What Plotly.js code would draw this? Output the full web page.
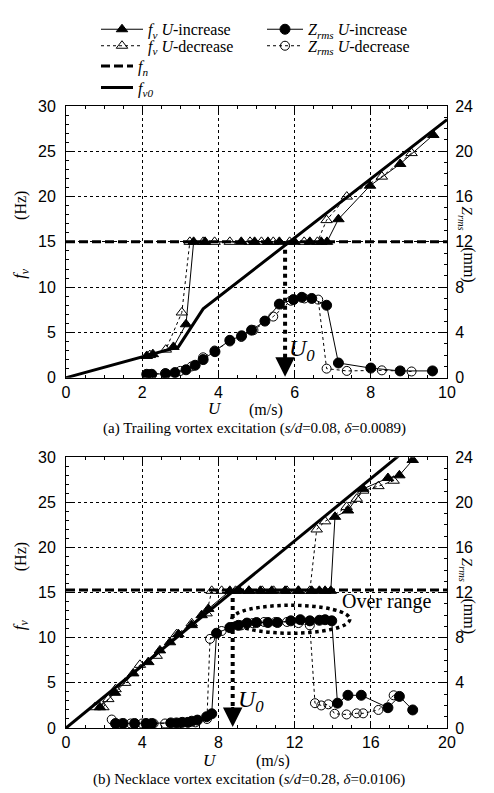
<!DOCTYPE html>
<html>
<head>
<meta charset="utf-8">
<script src="https://cdn.plot.ly/plotly-3.0.1.min.js"></script>
<style>html,body{margin:0;padding:0;background:#fff;}#chart{width:494px;height:793px;}</style>
</head>
<body>
<div id="chart"></div>
<script>
// ---------- (a) Trailing vortex excitation ----------
const a_fvInc_U = [2.12, 2.28, 2.82, 3.15, 3.35, 3.65, 4.6, 4.95, 5.3, 5.6, 6.0, 6.4, 6.7, 6.85, 7.15, 7.98, 8.77, 9.64];
const a_fvInc_f = [2.4, 2.6, 3.4, 5.9, 15, 15, 15, 15, 15, 15, 15, 15, 15, 15, 17.5, 21.2, 23.6, 26.8];
const a_fvDec_U = [9.07, 8.29, 7.37, 6.84, 6.6, 6.25, 5.87, 5.44, 5.13, 4.83, 4.3, 3.9, 3.6, 3.25, 3.04, 2.62, 2.2];
const a_fvDec_f = [24.8, 22.2, 20.0, 17.4, 15, 15, 15, 15, 15, 15, 15, 15, 15, 15, 7.2, 3.1, 2.5];
const a_zInc_U = [2.12, 2.25, 2.62, 2.86, 3.15, 3.39, 3.6, 3.91, 4.3, 4.61, 4.87, 5.22, 5.6, 5.97, 6.19, 6.45, 6.84, 7.15, 8.0, 8.77, 9.62];
const a_zInc_Z = [0.3, 0.3, 0.35, 0.45, 0.7, 1.1, 1.6, 2.3, 3.3, 3.7, 4.2, 5.0, 6.5, 6.9, 7.1, 7.0, 6.4, 1.3, 0.85, 0.6, 0.6];
const a_zDec_U = [9.07, 8.29, 7.37, 6.84, 6.62, 6.26, 5.9, 5.44, 4.92, 4.6, 4.3, 3.9, 3.6, 3.3, 3.0, 2.6, 2.2];
const a_zDec_Z = [0.55, 0.65, 0.6, 0.8, 6.9, 7.0, 6.8, 5.4, 4.2, 3.6, 3.2, 2.4, 1.8, 1.0, 0.6, 0.4, 0.3];
const a_fn_U = [0, 10];
const a_fn_f = [15, 15];
const a_fv0_U = [0, 2.95, 3.6, 10];
const a_fv0_f = [0, 3.4, 7.6, 28.5];
const a_U0 = 5.75;
const a_U0_f = [15, 1.2];

// ---------- (b) Necklace vortex excitation ----------
const b_fvInc_U = [1.78, 2.57, 3.53, 4.32, 4.93, 5.46, 5.9, 6.6, 7.12, 7.47, 8.6, 9.1, 9.6, 10.2, 10.8, 11.5, 12.2, 12.9, 13.3, 13.6, 13.9, 14.12, 14.8, 15.6, 16.9, 17.5, 18.2];
const b_fvInc_f = [2.3, 3.9, 6.05, 7.3, 8.6, 9.5, 10.4, 11.4, 12.5, 13.2, 15.2, 15.2, 15.2, 15.2, 15.2, 15.2, 15.2, 15.2, 15.2, 15.2, 15.2, 23.4, 24.1, 26.5, 27.7, 28.0, 29.7];
const b_fvDec_U = [17.2, 16.4, 15.6, 15.26, 14.73, 13.6, 13.16, 12.8, 12.2, 11.6, 10.9, 10.3, 9.6, 8.9, 8.17, 7.65, 7.38, 6.6, 5.81, 4.76, 3.88, 3.1, 2.6, 2.22, 1.96, 1.52];
const b_fvDec_f = [27.4, 26.8, 26.3, 25.4, 24.5, 22.9, 22.0, 15.2, 15.2, 15.2, 15.2, 15.2, 15.2, 15.2, 15.2, 15.2, 12.7, 11.6, 10.4, 8.0, 7.0, 5.0, 4.3, 3.2, 2.3, 2.3];
const b_zInc_U = [2.6, 3.0, 3.6, 4.2, 4.5, 5.5, 5.8, 6.1, 6.4, 6.6, 6.9, 7.38, 7.65, 7.9, 8.6, 9.05, 9.5, 10.0, 10.6, 11.1, 11.8, 12.3, 12.8, 13.3, 13.6, 13.95, 14.25, 14.8, 15.5, 16.9, 17.5, 18.2];
const b_zInc_Z = [0.4, 0.4, 0.4, 0.4, 0.4, 0.45, 0.45, 0.5, 0.5, 0.6, 0.7, 1.0, 1.26, 8.4, 8.9, 9.1, 9.3, 9.35, 9.35, 9.35, 9.5, 9.6, 9.5, 9.55, 9.6, 9.5, 2.2, 2.9, 2.9, 1.8, 2.8, 1.6];
const b_zDec_U = [17.2, 16.4, 15.6, 15.26, 14.73, 14.1, 13.77, 13.4, 13.07, 12.8, 12.2, 11.6, 11.0, 10.4, 9.8, 9.2, 8.6, 8.17, 7.56, 7.4, 6.8, 6.0, 5.2, 4.6, 4.0, 3.4, 2.9, 2.4];
const b_zDec_Z = [2.9, 1.6, 1.3, 1.3, 1.2, 1.26, 2.1, 2.0, 2.2, 9.1, 9.3, 9.4, 9.4, 9.4, 9.3, 9.1, 8.9, 8.6, 7.9, 0.8, 0.5, 0.45, 0.4, 0.4, 0.4, 0.4, 0.4, 0.75];
const b_fn_U = [0, 20];
const b_fn_f = [15.3, 15.3];
const b_fv0_U = [0, 17.6];
const b_fv0_f = [0, 30.4];
const b_U0 = 8.75;
const b_U0_f = [15.3, 1.2];
const b_ellipse = {U0: 8.7, U1: 14.9, f0: 10.5, f1: 13.6};

// tick labels / ranges
const a_xTicks = [0, 2, 4, 6, 8, 10];
const b_xTicks = [0, 4, 8, 12, 16, 20];
const fTicks = [0, 5, 10, 15, 20, 25, 30];
const zTicks = [0, 4, 8, 12, 16, 20, 24];

// ---------- layout helpers ----------
const W = 494, H = 793;
const L = 66, R = 447, T = 87, B = 728;
const px = x => (x - L) / (R - L);
const py = y => (B - y) / (B - T);
const SERIF = 'Liberation Serif, Times New Roman, serif';
const SANS = 'Liberation Sans, Arial, sans-serif';

const thin = {color: '#000', width: 1};
const thinDash = {color: '#000', width: 1, dash: '3px,3px'};
const mkTriF = {symbol: 'triangle-up', size: 10, color: '#000', line: {color: '#000', width: 1}};
const mkTriO = {symbol: 'triangle-up-open', size: 10, color: '#000', line: {color: '#000', width: 1}};
const mkCirF = {symbol: 'circle', size: 10, color: '#000', line: {color: '#000', width: 1}};
const mkCirO = {symbol: 'circle-open', size: 9, color: '#000', line: {color: '#000', width: 1}};

const NAMES = {
  fvInc: '<i>f<sub>v</sub> U</i>-increase',
  fvDec: '<i>f<sub>v</sub> U</i>-decrease',
  fn: '<i>f<sub>n</sub></i>',
  fv0: '<i>f<sub>v0</sub></i>',
  zInc: '<i>Z<sub>rms</sub> U</i>-increase',
  zDec: '<i>Z<sub>rms</sub> U</i>-decrease'
};

function panel(xa, yf, yz, d, on) {
  return [
    {x: d.fn_U, y: d.fn_f, xaxis: xa, yaxis: yf, mode: 'lines', line: {color: '#000', width: 3, dash: '9px,4px'},
     name: NAMES.fn, showlegend: on, legend: 'legend3'},
    {x: d.fv0_U, y: d.fv0_f, xaxis: xa, yaxis: yf, mode: 'lines', line: {color: '#000', width: 3},
     name: NAMES.fv0, showlegend: on, legend: 'legend4'},
    {x: [d.U0, d.U0], y: d.U0_f, xaxis: xa, yaxis: yf, mode: 'lines', line: {color: '#000', width: 4, dash: 'dot'},
     showlegend: false, hoverinfo: 'skip'},
    {x: d.zDec_U, y: d.zDec_Z, xaxis: xa, yaxis: yz, mode: 'lines+markers', line: thinDash, marker: mkCirO,
     name: NAMES.zDec, showlegend: on, legend: 'legend6'},
    {x: d.zInc_U, y: d.zInc_Z, xaxis: xa, yaxis: yz, mode: 'lines+markers', line: thin, marker: mkCirF,
     name: NAMES.zInc, showlegend: on, legend: 'legend5'},
    {x: d.fvDec_U, y: d.fvDec_f, xaxis: xa, yaxis: yf, mode: 'lines+markers', line: thinDash, marker: mkTriO,
     name: NAMES.fvDec, showlegend: on, legend: 'legend2'},
    {x: d.fvInc_U, y: d.fvInc_f, xaxis: xa, yaxis: yf, mode: 'lines+markers', line: thin, marker: mkTriF,
     name: NAMES.fvInc, showlegend: on, legend: 'legend'}
  ];
}

const dA = {fvInc_U: a_fvInc_U, fvInc_f: a_fvInc_f, fvDec_U: a_fvDec_U, fvDec_f: a_fvDec_f,
  zInc_U: a_zInc_U, zInc_Z: a_zInc_Z, zDec_U: a_zDec_U, zDec_Z: a_zDec_Z,
  fn_U: a_fn_U, fn_f: a_fn_f, fv0_U: a_fv0_U, fv0_f: a_fv0_f, U0: a_U0, U0_f: a_U0_f};
const dB = {fvInc_U: b_fvInc_U, fvInc_f: b_fvInc_f, fvDec_U: b_fvDec_U, fvDec_f: b_fvDec_f,
  zInc_U: b_zInc_U, zInc_Z: b_zInc_Z, zDec_U: b_zDec_U, zDec_Z: b_zDec_Z,
  fn_U: b_fn_U, fn_f: b_fn_f, fv0_U: b_fv0_U, fv0_f: b_fv0_f, U0: b_U0, U0_f: b_U0_f};

const traces = panel('x', 'y', 'y2', dA, true).concat(panel('x2', 'y3', 'y4', dB, false));

const topDom = [py(367), 1];
const botDom = [0, py(449)];

function xAxis(range, ticks, minorD, anchor) {
  return {range: range, tickvals: ticks, ticks: 'inside', ticklen: 6, tickwidth: 1, tickcolor: '#000',
    minor: {dtick: minorD, ticks: 'inside', ticklen: 3, tickcolor: '#000', showgrid: false},
    showline: true, linecolor: '#000', linewidth: 1, mirror: 'ticks',
    showgrid: true, gridcolor: '#000', gridwidth: 1, griddash: 'dot', zeroline: false,
    tickfont: {family: SANS, size: 16, color: '#000'}, anchor: anchor, domain: [0, 1], fixedrange: true};
}
function yAxisL(ticks, anchor, dom) {
  return {range: [0, 30], tickvals: ticks, ticks: 'inside', ticklen: 6, tickwidth: 1, tickcolor: '#000',
    minor: {dtick: 1, ticks: 'inside', ticklen: 3, tickcolor: '#000', showgrid: false},
    showline: true, linecolor: '#000', linewidth: 1,
    showgrid: true, gridcolor: '#000', gridwidth: 1, griddash: 'dot', zeroline: false,
    ticklabelstandoff: 6,
    tickfont: {family: SANS, size: 16, color: '#000'}, anchor: anchor, domain: dom, fixedrange: true};
}
function yAxisR(ticks, over, anchor) {
  return {range: [0, 24], tickvals: ticks, ticks: 'inside', ticklen: 6, tickwidth: 1, tickcolor: '#000',
    minor: {dtick: 1, ticks: 'inside', ticklen: 3, tickcolor: '#000', showgrid: false},
    showline: true, linecolor: '#000', linewidth: 1, side: 'right', overlaying: over,
    showgrid: false, zeroline: false, ticklabelstandoff: 4,
    tickfont: {family: SANS, size: 16, color: '#000'}, anchor: anchor, fixedrange: true};
}

const ann = [];
function txt(text, x, y, size, angle) {
  const a = {text: text, xref: 'paper', yref: 'paper', x: px(x), y: py(y), showarrow: false,
    xanchor: 'center', yanchor: 'middle', font: {family: SERIF, size: size, color: '#000'}};
  if (angle) a.textangle = angle;
  return a;
}
// axis titles (middle tick label sits in the gap of each title)
[0, 362].forEach(dy => {
  ann.push(txt('<i>f<sub>v</sub></i>', 21, 260 + dy, 17, -90));
  ann.push(txt('(Hz)', 21, 190 + dy, 16, -90));
  ann.push(txt('<i>Z<sub>rms</sub></i>', 466, 203 + dy, 15, 90));
  ann.push(txt('(mm)', 469, 251 + dy, 16, 90));
});
ann.push(txt('<i>U</i>', 215, 399, 17));
ann.push(txt('(m/s)', 266, 400, 16));
ann.push(txt('<i>U</i>', 210, 761, 17));
ann.push(txt('(m/s)', 273, 762, 16));
ann.push(txt('(a) Trailing vortex excitation (<i>s/d</i>=0.08, <i>δ</i>=0.0089)', 254, 419, 15));
ann.push(txt('(b) Necklace vortex excitation (<i>s/d</i>=0.28, <i>δ</i>=0.0106)', 249, 781, 15));
// U0 labels and arrowheads (data coordinates)
ann.push({text: '<i>U<sub>0</sub></i>', xref: 'x', yref: 'y', x: a_U0 + 0.45, y: 3.1, showarrow: false,
  font: {family: SERIF, size: 24, color: '#000'}});
ann.push({text: '<i>U<sub>0</sub></i>', xref: 'x2', yref: 'y3', x: b_U0 + 0.95, y: 3.0, showarrow: false,
  font: {family: SERIF, size: 24, color: '#000'}});
ann.push({text: '', xref: 'x', yref: 'y', axref: 'x', ayref: 'y', x: a_U0, y: 0.1, ax: a_U0, ay: 2.5,
  showarrow: true, arrowhead: 2, arrowsize: 1.3, arrowwidth: 3, arrowcolor: '#000'});
ann.push({text: '', xref: 'x2', yref: 'y3', axref: 'x2', ayref: 'y3', x: b_U0, y: 0.1, ax: b_U0, ay: 2.5,
  showarrow: true, arrowhead: 2, arrowsize: 1.3, arrowwidth: 3, arrowcolor: '#000'});
ann.push({text: 'Over range', xref: 'x2', yref: 'y3', x: 16.85, y: 14.0, showarrow: false,
  font: {family: SERIF, size: 20, color: '#000'}});

function leg(xPix, yPix, iw) {
  return {x: px(xPix), y: py(yPix), xanchor: 'left', yanchor: 'middle', orientation: 'v',
    bgcolor: 'rgba(0,0,0,0)', borderwidth: 0, font: {family: SERIF, size: 16, color: '#000'},
    itemwidth: iw, tracegroupgap: 0};
}

const layout = {
  width: W, height: H, autosize: false,
  margin: {l: L, r: W - R, t: T, b: H - B, pad: 0},
  paper_bgcolor: '#fff', plot_bgcolor: 'rgba(0,0,0,0)',
  font: {family: SERIF, color: '#000'},
  xaxis: xAxis([0, 10], a_xTicks, 0.5, 'y'),
  yaxis: yAxisL(fTicks, 'x', topDom),
  yaxis2: yAxisR(zTicks, 'y', 'x'),
  xaxis2: xAxis([0, 20], b_xTicks, 1, 'y3'),
  yaxis3: yAxisL(fTicks, 'x2', botDom),
  yaxis4: yAxisR(zTicks, 'y3', 'x2'),
  legend: leg(96, 8, 42),
  legend2: leg(96, 25, 42),
  legend3: leg(96, 46, 32),
  legend4: leg(96, 68, 32),
  legend5: leg(262, 8, 36),
  legend6: leg(262, 25, 36),
  shapes: [
    {type: 'circle', xref: 'x2', yref: 'y3', x0: b_ellipse.U0, x1: b_ellipse.U1, y0: b_ellipse.f0, y1: b_ellipse.f1,
     line: {color: '#000', width: 3.5, dash: 'dot'}}
  ],
  annotations: ann,
  showlegend: true
};

Plotly.newPlot('chart', traces, layout, {staticPlot: true, displayModeBar: false});
</script>
</body>
</html>
